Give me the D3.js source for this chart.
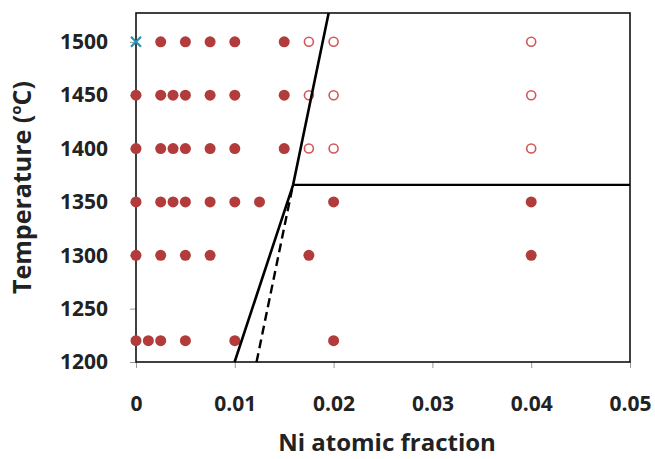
<!DOCTYPE html>
<html>
<head>
<meta charset="utf-8">
<script src="https://cdn.jsdelivr.net/npm/d3@7"></script>
<style>
	body { margin: 0; background: #fff; }
	text { font-family: "Open Sans", sans-serif; font-weight: bold; fill: #222; }
</style>
</head>
<body>
<div id="chart"></div>
<script>
// x tick values and y tick values
const xTicks = [0, 0.01, 0.02, 0.03, 0.04, 0.05]
const yTicks = [1200, 1250, 1300, 1350, 1400, 1450, 1500]

// filled points [Ni fraction, temperature]
const filled = [
	[0.0025, 1500], [0.005, 1500], [0.0075, 1500], [0.01, 1500], [0.015, 1500],
	[0, 1450], [0.0025, 1450], [0.00375, 1450], [0.005, 1450], [0.0075, 1450], [0.01, 1450], [0.015, 1450],
	[0, 1400], [0.0025, 1400], [0.00375, 1400], [0.005, 1400], [0.0075, 1400], [0.01, 1400], [0.015, 1400],
	[0, 1350], [0.0025, 1350], [0.00375, 1350], [0.005, 1350], [0.0075, 1350], [0.01, 1350], [0.0125, 1350], [0.02, 1350], [0.04, 1350],
	[0, 1300], [0.0025, 1300], [0.005, 1300], [0.0075, 1300], [0.0175, 1300], [0.04, 1300],
	[0, 1220], [0.00125, 1220], [0.0025, 1220], [0.005, 1220], [0.01, 1220], [0.02, 1220]
]

// open points
const open = [
	[0.0175, 1500], [0.02, 1500], [0.04, 1500],
	[0.0175, 1450], [0.02, 1450], [0.04, 1450],
	[0.0175, 1400], [0.02, 1400], [0.04, 1400]
]

// cross marker
const crosses = [[0, 1500]]

// phase boundaries
const solidLine = [[0.00998, 1200], [0.0159, 1366], [0.0195, 1527]]
const dashedLine = [[0.0122, 1200], [0.0158, 1362]]
const horizLine = [[0.0159, 1366], [0.05, 1366]]

const width = 655
const height = 459
const margin = {top: 13, right: 25, bottom: 97, left: 136}

const svg = d3.select("#chart")
	.append("svg")
	.attr("width", width)
	.attr("height", height)

const x = d3.scaleLinear()
	.domain([0, 0.05])
	.range([margin.left, width - margin.right])

const y = d3.scaleLinear()
	.domain([1200, 1527])
	.range([height - margin.bottom, margin.top])

// x axis
const xAxis = svg.append("g")
	.attr("transform", `translate(0,${height - margin.bottom})`)
	.call(d3.axisBottom(x).tickValues(xTicks).tickFormat(d => d === 0 ? "0" : d3.format(".2f")(d)).tickSize(6).tickSizeOuter(0).tickPadding(28))
xAxis.select(".domain").remove()
xAxis.selectAll(".tick line").attr("stroke", "#999")
xAxis.selectAll(".tick text").style("font-size", "21px").attr("fill", "#222")

// y axis
const yAxis = svg.append("g")
	.attr("transform", `translate(${margin.left},0)`)
	.call(d3.axisLeft(y).tickValues(yTicks).tickFormat(d3.format("d")).tickSize(6).tickSizeOuter(0).tickPadding(22))
yAxis.select(".domain").remove()
yAxis.selectAll(".tick line").attr("stroke", "#999")
yAxis.selectAll(".tick text").style("font-size", "21px").attr("fill", "#222")

// plot frame
svg.append("rect")
	.attr("x", x(0))
	.attr("y", y(1527))
	.attr("width", x(0.05) - x(0))
	.attr("height", y(1200) - y(1527))
	.attr("fill", "none")
	.attr("stroke", "#111")
	.attr("stroke-width", 1.6)

// axis titles
svg.append("text")
	.attr("x", (x(0) + x(0.05)) / 2 + 4)
	.attr("y", 451)
	.attr("text-anchor", "middle")
	.style("font-size", "24px")
	.text("Ni atomic fraction")

const yt = svg.append("text")
	.attr("transform", `translate(31,${(y(1200) + y(1527)) / 2}) rotate(-90)`)
	.attr("text-anchor", "middle")
	.style("font-size", "25px")
yt.append("tspan").text("Temperature (")
yt.append("tspan").attr("baseline-shift", "super").style("font-size", "15px").text("o")
yt.append("tspan").text("C)")

// points
svg.append("g")
	.selectAll("circle")
	.data(filled)
	.join("circle")
	.attr("cx", d => x(d[0]))
	.attr("cy", d => y(d[1]))
	.attr("r", 5.5)
	.attr("fill", "#b23b3b")

svg.append("g")
	.selectAll("circle")
	.data(open)
	.join("circle")
	.attr("cx", d => x(d[0]))
	.attr("cy", d => y(d[1]))
	.attr("r", 4.5)
	.attr("fill", "#fff")
	.attr("stroke", "#d2575a")
	.attr("stroke-width", 1.6)

svg.append("g")
	.selectAll("path")
	.data(crosses)
	.join("path")
	.attr("d", d => {
		const cx = x(d[0]), cy = y(d[1]), s = 5
		return `M${cx - s},${cy - s}L${cx + s},${cy + s}M${cx - s},${cy + s}L${cx + s},${cy - s}`
	})
	.attr("stroke", "#2a8fb0")
	.attr("stroke-width", 2.2)

// boundary lines
const line = d3.line()
	.x(d => x(d[0]))
	.y(d => y(d[1]))

svg.append("path")
	.attr("d", line(solidLine))
	.attr("fill", "none")
	.attr("stroke", "#000")
	.attr("stroke-width", 2.6)

svg.append("path")
	.attr("d", line(dashedLine))
	.attr("fill", "none")
	.attr("stroke", "#000")
	.attr("stroke-width", 2.4)
	.attr("stroke-dasharray", "9,5")

svg.append("path")
	.attr("d", line(horizLine))
	.attr("fill", "none")
	.attr("stroke", "#000")
	.attr("stroke-width", 2.4)
</script>
</body>
</html>
